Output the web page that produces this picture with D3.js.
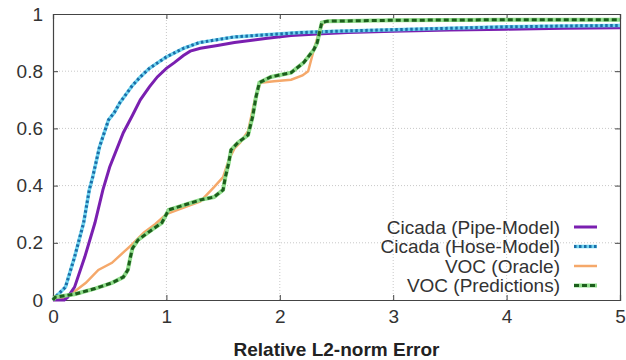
<!DOCTYPE html>
<html><head><meta charset="utf-8">
<script src="https://cdn.jsdelivr.net/npm/d3@7"></script>
<style>body{margin:0;background:#fff}svg{display:block}text{font-family:"Liberation Sans",Arial,sans-serif}</style>
</head><body><svg id="c" width="626" height="360"></svg>
<script>
const xTicks = [0,1,2,3,4,5];
const yTicks = [0,0.2,0.4,0.6,0.8,1];
const yTickLabels = ["0","0.2","0.4","0.6","0.8","1"];
const seriesNames = ["Cicada (Pipe-Model)","Cicada (Hose-Model)","VOC (Oracle)","VOC (Predictions)"];

const pipeX = [0,0.1,0.13,0.19,0.28,0.37,0.44,0.50,0.62,0.70,0.77,0.85,0.92,1.0,1.07,1.15,1.21,1.3,1.45,1.6,1.89,2.1,2.33,2.6,3.0,3.5,4.0,4.5,5.0];
const pipeY = [0,0,0.01,0.045,0.15,0.27,0.385,0.465,0.585,0.645,0.70,0.745,0.78,0.81,0.83,0.855,0.87,0.88,0.89,0.90,0.915,0.925,0.93,0.935,0.94,0.944,0.947,0.95,0.952];

const hoseX = [0,0.02,0.11,0.19,0.27,0.32,0.35,0.41,0.49,0.54,0.59,0.70,0.77,0.85,1.0,1.15,1.29,1.6,2.18,2.5,3,3.5,4,4.5,5];
const hoseY = [0,0.01,0.045,0.15,0.27,0.385,0.43,0.535,0.63,0.655,0.69,0.75,0.78,0.81,0.85,0.88,0.90,0.92,0.935,0.94,0.945,0.95,0.955,0.958,0.96];

const oracleX = [0,0.1,0.19,0.29,0.40,0.52,0.63,0.70,0.80,0.90,1.0,1.1,1.2,1.3,1.42,1.5,1.55,1.6,1.65,1.72,1.78,1.83,1.95,2.1,2.2,2.25,2.30,2.36,2.40,3,4,5];
const oracleY = [0,0.005,0.03,0.06,0.105,0.13,0.17,0.195,0.235,0.265,0.30,0.315,0.33,0.345,0.395,0.43,0.49,0.53,0.55,0.59,0.70,0.76,0.765,0.77,0.785,0.80,0.875,0.955,0.975,0.978,0.98,0.98];

const predX = [0,0.02,0.19,0.37,0.52,0.62,0.66,0.68,0.70,0.75,0.87,0.96,1.02,1.14,1.22,1.30,1.42,1.50,1.52,1.55,1.57,1.63,1.72,1.76,1.79,1.82,1.92,2.10,2.21,2.30,2.33,2.37,2.42,3,4,5];
const predY = [0,0.01,0.02,0.04,0.06,0.08,0.105,0.145,0.18,0.21,0.245,0.27,0.315,0.33,0.34,0.35,0.36,0.385,0.43,0.48,0.525,0.55,0.577,0.64,0.71,0.76,0.78,0.795,0.83,0.875,0.90,0.97,0.975,0.978,0.98,0.98];

const L=53, R=620, T=14, B=300;
const svg = d3.select("#c");
const x = d3.scaleLinear().domain([0,5]).range([L,R]);
const y = d3.scaleLinear().domain([0,1]).range([B,T]);

// grid
svg.append("g").selectAll("line").data(xTicks.slice(1,-1)).join("line")
  .attr("x1",d=>x(d)).attr("x2",d=>x(d)).attr("y1",T).attr("y2",B)
  .attr("stroke","#c8c8c8").attr("stroke-width",1).attr("stroke-dasharray","1,2");
svg.append("g").selectAll("line").data(yTicks.slice(1,-1)).join("line")
  .attr("y1",d=>y(d)).attr("y2",d=>y(d)).attr("x1",L).attr("x2",R)
  .attr("stroke","#c8c8c8").attr("stroke-width",1).attr("stroke-dasharray","1,2");

// axes
const ax = svg.append("g").attr("color","#444");
ax.append("g").attr("transform",`translate(0,${B})`).call(d3.axisBottom(x).tickValues(xTicks).tickSize(-5).tickPadding(10).tickFormat(d3.format("d")));
ax.append("g").attr("transform",`translate(0,${T})`).call(d3.axisTop(x).tickValues(xTicks).tickSize(-5).tickFormat(""));
ax.append("g").attr("transform",`translate(${L},0)`).call(d3.axisLeft(y).tickValues(yTicks).tickSize(-5).tickPadding(10).tickFormat((d,i)=>yTickLabels[i]));
ax.append("g").attr("transform",`translate(${R},0)`).call(d3.axisRight(y).tickValues(yTicks).tickSize(-5).tickFormat(""));
ax.selectAll(".domain").attr("stroke","#444").attr("stroke-width",1.2);
ax.selectAll("text").attr("font-size",19).attr("fill","#333").attr("font-family","Liberation Sans, Arial, sans-serif");

svg.append("text").attr("x",(L+R)/2).attr("y",356).attr("text-anchor","middle")
  .attr("font-size",19).attr("font-weight","bold").attr("fill","#222").text("Relative L2-norm Error");

const line = d3.line().x(d=>x(d[0])).y(d=>y(d[1]));
const zip = (a,b)=>a.map((v,i)=>[v,b[i]]);
const g = svg.append("g");
// Oracle
g.append("path").attr("d",line(zip(oracleX,oracleY))).attr("fill","none").attr("stroke","#f5a86a").attr("stroke-width",2.5);
// Pipe
g.append("path").attr("d",line(zip(pipeX,pipeY))).attr("fill","none").attr("stroke","#7a1fb0").attr("stroke-width",3);
// Hose
g.append("path").attr("d",line(zip(hoseX,hoseY))).attr("fill","none").attr("stroke","#6fd3ef").attr("stroke-width",3.5);
g.append("path").attr("d",line(zip(hoseX,hoseY))).attr("fill","none").attr("stroke","#1b6ea8").attr("stroke-width",3).attr("stroke-dasharray","2.5,2.5");
// Predictions
g.append("path").attr("d",line(zip(predX,predY))).attr("fill","none").attr("stroke","#8fdc8a").attr("stroke-width",4);
g.append("path").attr("d",line(zip(predX,predY))).attr("fill","none").attr("stroke","#1c5e1c").attr("stroke-width",3).attr("stroke-dasharray","5,3");

// legend
const leg = svg.append("g");
const rows = [227,246.5,266,285.5];
const styles = [
  [{s:"#7a1fb0",w:3,d:null}],
  [{s:"#6fd3ef",w:3.5,d:null},{s:"#1b6ea8",w:3,d:"2.5,2.5"}],
  [{s:"#f5a86a",w:2.5,d:null}],
  [{s:"#8fdc8a",w:4,d:null},{s:"#1c5e1c",w:3,d:"5,3"}]
];
seriesNames.forEach((n,i)=>{
  leg.append("text").attr("x",560).attr("y",rows[i]).attr("dy","0.35em").attr("text-anchor","end")
    .attr("font-size",19).attr("fill","#333").text(n);
  styles[i].forEach(st=>{
    leg.append("line").attr("x1",574).attr("x2",597).attr("y1",rows[i]).attr("y2",rows[i])
      .attr("stroke",st.s).attr("stroke-width",st.w).attr("stroke-dasharray",st.d);
  });
});
</script></body></html>
